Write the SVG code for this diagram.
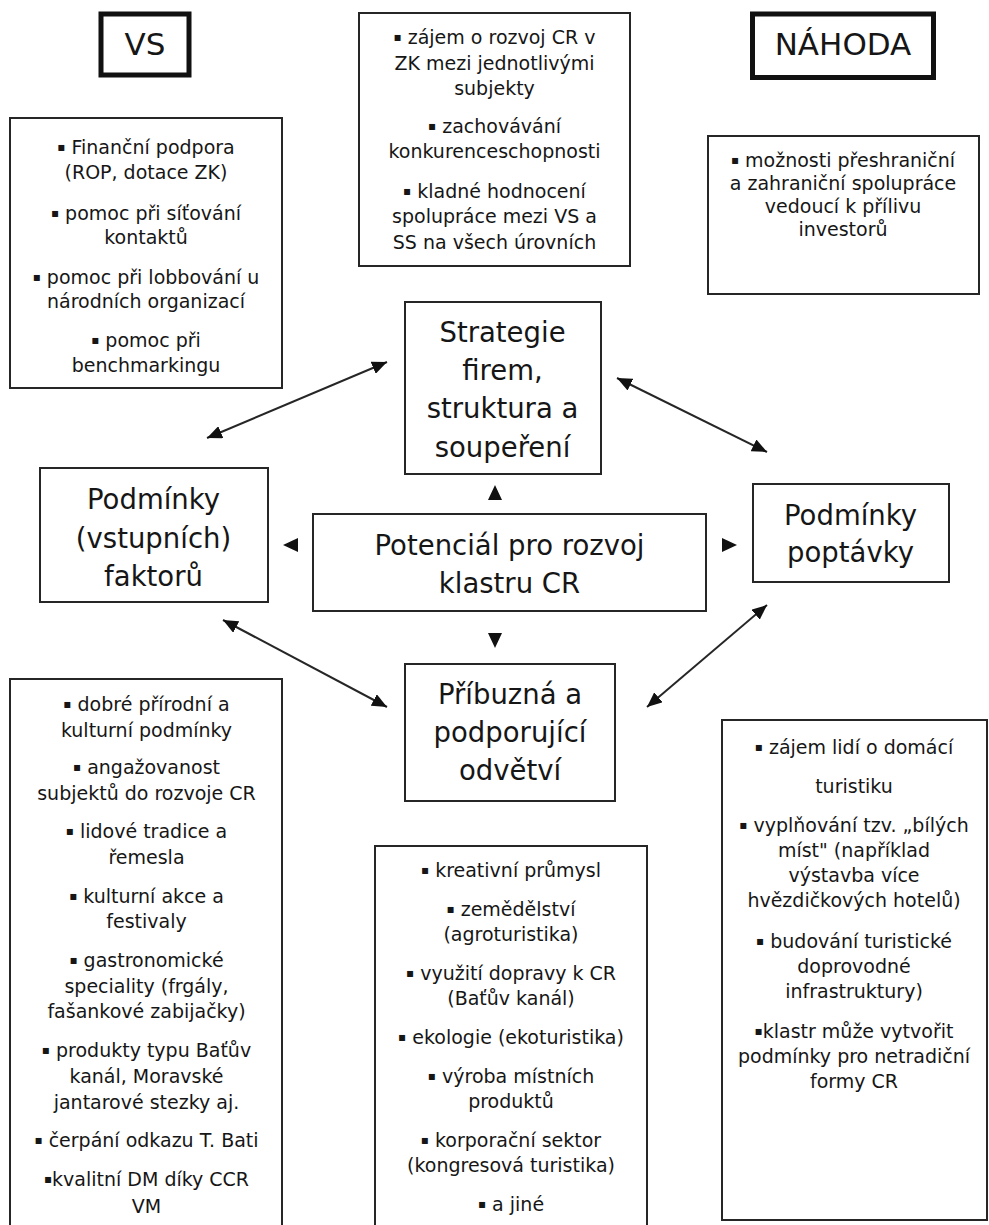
<svg xmlns="http://www.w3.org/2000/svg" width="989" height="1225" viewBox="0 0 989 1225">
<style>
text{font-family:"DejaVu Sans","Liberation Sans",sans-serif;fill:#161616;text-anchor:middle}
.s{font-size:19px}
.L{font-size:27.5px}
.T{font-size:31px}
.b{font-size:12px;baseline-shift:3px}
.box{fill:#fff;stroke:#262626;stroke-width:2}
.tbox{fill:#fff;stroke:#111;stroke-width:5}
.con{stroke:#262626;stroke-width:2;fill:none}
.head{fill:#111}
</style>
<defs>
<marker id="ah" markerUnits="userSpaceOnUse" markerWidth="15" markerHeight="13" refX="15" refY="6.5" orient="auto-start-reverse" viewBox="0 0 15 13">
<path d="M0,0 L15,6.5 L0,13 z" fill="#111"/>
</marker>
</defs>
<rect width="989" height="1225" fill="#fff"/>

<g id="n-vs-title">
<rect class="tbox" x="101" y="14" width="88" height="61"/>
<text class="T" x="145" y="55">VS</text>
</g>

<g id="n-nahoda-title">
<rect class="tbox" x="752.5" y="14" width="181" height="63.5"/>
<text class="T" x="843" y="55">NÁHODA</text>
</g>

<g id="n-vs">
<rect class="box" x="10" y="118" width="272" height="270"/>
<text class="s" x="146" y="154"><tspan class="b">▪</tspan> Finanční podpora</text>
<text class="s" x="146" y="179">(ROP, dotace ZK)</text>
<text class="s" x="146" y="220"><tspan class="b">▪</tspan> pomoc při síťování</text>
<text class="s" x="146" y="244">kontaktů</text>
<text class="s" x="146" y="284"><tspan class="b">▪</tspan> pomoc při lobbování u</text>
<text class="s" x="146" y="308">národních organizací</text>
<text class="s" x="146" y="347"><tspan class="b">▪</tspan> pomoc při</text>
<text class="s" x="146" y="372">benchmarkingu</text>
</g>

<g id="n-top-center">
<rect class="box" x="359" y="13" width="271" height="253"/>
<text class="s" x="494.5" y="44"><tspan class="b">▪</tspan> zájem o rozvoj CR v</text>
<text class="s" x="494.5" y="70">ZK mezi jednotlivými</text>
<text class="s" x="494.5" y="95">subjekty</text>
<text class="s" x="494.5" y="133"><tspan class="b">▪</tspan> zachovávání</text>
<text class="s" x="494.5" y="158">konkurenceschopnosti</text>
<text class="s" x="494.5" y="198"><tspan class="b">▪</tspan> kladné hodnocení</text>
<text class="s" x="494.5" y="223">spolupráce mezi VS a</text>
<text class="s" x="494.5" y="249">SS na všech úrovních</text>
</g>

<g id="n-nahoda">
<rect class="box" x="708" y="136" width="271" height="158"/>
<text class="s" x="843" y="167"><tspan class="b">▪</tspan> možnosti přeshraniční</text>
<text class="s" x="843" y="190">a zahraniční spolupráce</text>
<text class="s" x="843" y="213">vedoucí k přílivu</text>
<text class="s" x="843" y="236">investorů</text>
</g>

<g id="n-strategie">
<rect class="box" x="405" y="302" width="196" height="172"/>
<text class="L" x="502.5" y="342">Strategie</text>
<text class="L" x="502.5" y="380">firem,</text>
<text class="L" x="502.5" y="418">struktura a</text>
<text class="L" x="502.5" y="457">soupeření</text>
</g>

<g id="n-vstupni">
<rect class="box" x="40" y="468" width="228" height="134"/>
<text class="L" x="153.5" y="509">Podmínky</text>
<text class="L" x="153.5" y="547.5">(vstupních)</text>
<text class="L" x="153.5" y="586">faktorů</text>
</g>

<g id="n-potencial">
<rect class="box" x="313" y="514" width="393" height="97"/>
<text class="L" x="509.5" y="555">Potenciál pro rozvoj</text>
<text class="L" x="509.5" y="593">klastru CR</text>
</g>

<g id="n-poptavka">
<rect class="box" x="753" y="484" width="196" height="98"/>
<text class="L" x="850.5" y="525">Podmínky</text>
<text class="L" x="850.5" y="562">poptávky</text>
</g>

<g id="n-pribuzna">
<rect class="box" x="405" y="664" width="210" height="137"/>
<text class="L" x="510" y="704">Příbuzná a</text>
<text class="L" x="510" y="742">podporující</text>
<text class="L" x="510" y="780">odvětví</text>
</g>

<g id="n-list-left">
<rect class="box" x="10" y="679" width="272" height="570"/>
<text class="s" x="146.5" y="710.5"><tspan class="b">▪</tspan> dobré přírodní a</text>
<text class="s" x="146.5" y="736.5">kulturní podmínky</text>
<text class="s" x="146.5" y="773.5"><tspan class="b">▪</tspan> angažovanost</text>
<text class="s" x="146.5" y="800">subjektů do rozvoje CR</text>
<text class="s" x="146.5" y="837.5"><tspan class="b">▪</tspan> lidové tradice a</text>
<text class="s" x="146.5" y="863.5">řemesla</text>
<text class="s" x="146.5" y="902.5"><tspan class="b">▪</tspan> kulturní akce a</text>
<text class="s" x="146.5" y="928">festivaly</text>
<text class="s" x="146.5" y="966.5"><tspan class="b">▪</tspan> gastronomické</text>
<text class="s" x="146.5" y="992.5">speciality (frgály,</text>
<text class="s" x="146.5" y="1018">fašankové zabijačky)</text>
<text class="s" x="146.5" y="1057"><tspan class="b">▪</tspan> produkty typu Baťův</text>
<text class="s" x="146.5" y="1083">kanál, Moravské</text>
<text class="s" x="146.5" y="1108.5">jantarové stezky aj.</text>
<text class="s" x="146.5" y="1147"><tspan class="b">▪</tspan> čerpání odkazu T. Bati</text>
<text class="s" x="146.5" y="1186"><tspan class="b">▪</tspan>kvalitní DM díky CCR</text>
<text class="s" x="146.5" y="1213">VM</text>
</g>

<g id="n-list-center">
<rect class="box" x="375" y="846" width="272" height="420"/>
<text class="s" x="511" y="877"><tspan class="b">▪</tspan> kreativní průmysl</text>
<text class="s" x="511" y="916"><tspan class="b">▪</tspan> zemědělství</text>
<text class="s" x="511" y="941">(agroturistika)</text>
<text class="s" x="511" y="980"><tspan class="b">▪</tspan> využití dopravy k CR</text>
<text class="s" x="511" y="1005">(Baťův kanál)</text>
<text class="s" x="511" y="1044"><tspan class="b">▪</tspan> ekologie (ekoturistika)</text>
<text class="s" x="511" y="1083"><tspan class="b">▪</tspan> výroba místních</text>
<text class="s" x="511" y="1108">produktů</text>
<text class="s" x="511" y="1147"><tspan class="b">▪</tspan> korporační sektor</text>
<text class="s" x="511" y="1172">(kongresová turistika)</text>
<text class="s" x="511" y="1211"><tspan class="b">▪</tspan> a jiné</text>
</g>

<g id="n-list-right">
<rect class="box" x="722" y="720" width="265" height="500"/>
<text class="s" x="854" y="754"><tspan class="b">▪</tspan> zájem lidí o domácí</text>
<text class="s" x="854" y="793">turistiku</text>
<text class="s" x="854" y="832"><tspan class="b">▪</tspan> vyplňování tzv. „bílých</text>
<text class="s" x="854" y="857">míst" (například</text>
<text class="s" x="854" y="882">výstavba více</text>
<text class="s" x="854" y="907">hvězdičkových hotelů)</text>
<text class="s" x="854" y="948"><tspan class="b">▪</tspan> budování turistické</text>
<text class="s" x="854" y="973">doprovodné</text>
<text class="s" x="854" y="998">infrastruktury)</text>
<text class="s" x="854" y="1038"><tspan class="b">▪</tspan>klastr může vytvořit</text>
<text class="s" x="854" y="1063">podmínky pro netradiční</text>
<text class="s" x="854" y="1088">formy CR</text>
</g>

<g id="connectors">
<line class="con" x1="207" y1="438" x2="387" y2="362" marker-start="url(#ah)" marker-end="url(#ah)"/>
<line class="con" x1="617" y1="378" x2="767" y2="452" marker-start="url(#ah)" marker-end="url(#ah)"/>
<line class="con" x1="223" y1="620" x2="387" y2="707" marker-start="url(#ah)" marker-end="url(#ah)"/>
<line class="con" x1="647" y1="707" x2="767" y2="605" marker-start="url(#ah)" marker-end="url(#ah)"/>
<path class="head" d="M283,545 L298,538 L298,552 z"/>
<path class="head" d="M737,545 L722,538 L722,552 z"/>
<path class="head" d="M495,485 L488,500 L502,500 z"/>
<path class="head" d="M495,648 L488,633 L502,633 z"/>
</g>
</svg>
